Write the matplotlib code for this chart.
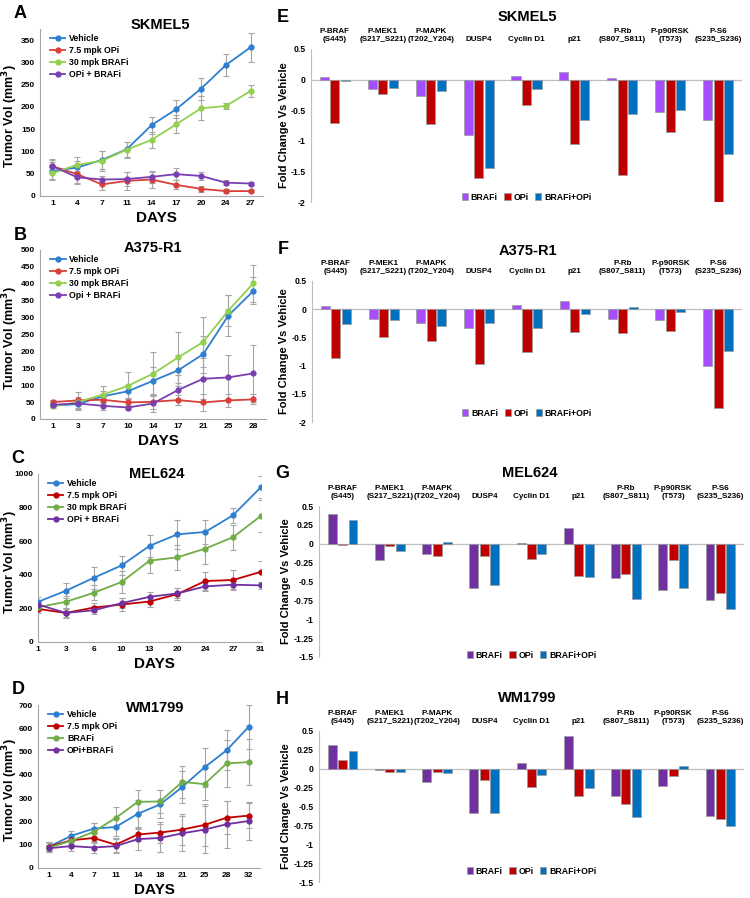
import numpy as np
import matplotlib.pyplot as plt

plt.rcParams['font.family'] = ['Liberation Sans', 'DejaVu Sans']
plt.rcParams['font.weight'] = 'bold'

# ---------------- growth curves (A-D) ----------------
days_a = [1, 4, 7, 11, 14, 17, 20, 24, 27]
skmel5_veh = [56, 64, 81, 105, 159, 195, 241, 294, 334]
skmel5_opi = [67, 49, 26, 34, 37, 25, 16, 11, 11]
skmel5_braf = [51, 70, 79, 104, 126, 161, 197, 202, 236]
skmel5_combo = [67, 42, 37, 38, 43, 49, 45, 30, 28]
skmel5_veh_err = [20, 15, 20, 17, 19, 20, 25, 24, 32]
skmel5_opi_err = [15, 20, 12, 20, 18, 10, 6, 4, 3]
skmel5_braf_err = [13, 17, 22, 18, 18, 20, 27, 7, 14]
skmel5_combo_err = [14, 14, 8, 15, 13, 14, 10, 5, 3]

days_b = [1, 3, 7, 10, 14, 17, 21, 25, 28]
a375_veh = [40, 44, 67, 82, 113, 144, 192, 306, 379]
a375_opi = [50, 55, 57, 49, 51, 56, 49, 55, 58]
a375_braf = [37, 50, 72, 98, 134, 182, 228, 321, 402]
a375_combo = [42, 46, 39, 34, 46, 86, 119, 123, 135]
a375_veh_err = [5, 10, 15, 20, 40, 45, 55, 60, 40]
a375_opi_err = [5, 25, 15, 10, 20, 15, 25, 20, 15]
a375_braf_err = [5, 8, 25, 40, 65, 75, 75, 45, 55]
a375_combo_err = [5, 20, 12, 8, 25, 45, 60, 65, 85]

days_c = [1, 3, 6, 10, 13, 20, 24, 27, 31]
mel624_veh = [239, 305, 382, 456, 572, 641, 655, 755, 922]
mel624_opi = [197, 173, 205, 223, 241, 285, 363, 369, 418]
mel624_braf = [207, 239, 293, 357, 484, 504, 556, 624, 751]
mel624_combo = [223, 173, 189, 231, 269, 289, 331, 341, 337]
mel624_veh_err = [30, 45, 65, 55, 65, 85, 70, 45, 65]
mel624_opi_err = [25, 30, 25, 40, 35, 35, 55, 60, 65]
mel624_braf_err = [20, 35, 45, 65, 75, 75, 90, 75, 95]
mel624_combo_err = [20, 25, 25, 30, 30, 30, 25, 25, 20]

days_d = [1, 4, 7, 11, 14, 18, 21, 25, 28, 32]
wm1799_veh = [92, 138, 169, 176, 233, 273, 348, 432, 506, 607]
wm1799_opi = [92, 119, 129, 100, 144, 152, 165, 185, 216, 225]
wm1799_braf = [88, 117, 155, 215, 284, 286, 370, 360, 449, 455]
wm1799_combo = [85, 94, 88, 94, 124, 129, 149, 165, 188, 202]
wm1799_veh_err = [20, 20, 25, 40, 60, 60, 70, 85, 85, 95]
wm1799_opi_err = [20, 15, 20, 30, 30, 45, 65, 90, 70, 55]
wm1799_braf_err = [20, 15, 40, 45, 50, 50, 70, 70, 100, 100]
wm1799_combo_err = [15, 20, 25, 30, 45, 60, 75, 100, 100, 80]

# ---------------- fold change bars (E-H) ----------------
proteins = ['P-BRAF\n(S445)', 'P-MEK1\n(S217_S221)', 'P-MAPK\n(T202_Y204)', 'DUSP4',
            'Cyclin D1', 'p21', 'P-Rb\n(S807_S811)', 'P-p90RSK\n(T573)', 'P-S6\n(S235_S236)']
bar_labels = ['BRAFi', 'OPi', 'BRAFi+OPi']

e_braf = [0.04, -0.15, -0.27, -0.90, 0.06, 0.12, 0.02, -0.53, -0.66]
e_opi = [-0.71, -0.24, -0.73, -1.61, -0.41, -1.06, -1.56, -0.86, -2.0]
e_combo = [-0.02, -0.14, -0.19, -1.44, -0.15, -0.66, -0.56, -0.50, -1.22]

f_braf = [0.06, -0.18, -0.24, -0.33, 0.07, 0.15, -0.17, -0.20, -1.01]
f_opi = [-0.87, -0.50, -0.56, -0.97, -0.76, -0.41, -0.42, -0.38, -1.76]
f_combo = [-0.27, -0.20, -0.30, -0.24, -0.34, -0.09, 0.04, -0.05, -0.74]

g_braf = [0.40, -0.21, -0.14, -0.58, 0.005, 0.21, -0.46, -0.61, -0.75]
g_opi = [-0.02, -0.03, -0.16, -0.16, -0.20, -0.43, -0.40, -0.22, -0.65]
g_combo = [0.32, -0.10, 0.02, -0.55, -0.13, -0.44, -0.73, -0.59, -0.86]

h_braf = [0.32, -0.02, -0.17, -0.58, 0.07, 0.43, -0.36, -0.23, -0.63]
h_opi = [0.11, -0.04, -0.04, -0.15, -0.24, -0.36, -0.47, -0.10, -0.66]
h_combo = [0.24, -0.04, -0.05, -0.58, -0.08, -0.26, -0.64, 0.03, -0.76]

W, H = 750, 898
fig = plt.figure(figsize=(7.5, 8.98), dpi=100)


def axes_px(l, t, r, b):
    return fig.add_axes([l / W, 1 - b / H, (r - l) / W, (b - t) / H])


def ftext(x, y, s, **kw):
    fig.text(x / W, 1 - y / H, s, **kw)


def growth_panel(box, days, series, errs, labels, colors, ylim, ystep, xlim,
                 title, title_xy, letter, letter_xy, days_y):
    ax = axes_px(*box)
    x = np.arange(len(days))
    for vals, err in zip(series, errs):
        ax.errorbar(x, vals, yerr=err, fmt='none', ecolor='#a6a6a6',
                    elinewidth=0.8, capsize=2, capthick=0.8, zorder=1)
    for vals, lab, col in zip(series, labels, colors):
        ax.plot(x, vals, color=col, lw=1.3, marker='o', ms=3.5, label=lab, zorder=3)
    ax.set_xlim(xlim)
    ax.set_ylim(ylim)
    ax.set_xticks(x)
    ax.set_xticklabels([str(d) for d in days], fontsize=6.5)
    ax.set_yticks(np.arange(0, ylim[1] + 1, ystep))
    ax.tick_params(labelsize=6.0, length=0, pad=3.5)
    ax.tick_params(axis='x', pad=3)
    for s in ['top', 'right']:
        ax.spines[s].set_visible(False)
    for s in ['left', 'bottom']:
        ax.spines[s].set_color('#a6a6a6')
    ax.legend(loc='upper left', bbox_to_anchor=(0.02, 1.0), frameon=False,
              fontsize=6.3, handlelength=1.8, labelspacing=0.35, borderaxespad=0.2,
              handletextpad=0.4)
    ftext(*title_xy, title, fontsize=10.5, ha='center', va='center')
    ftext(*letter_xy, letter, fontsize=13, ha='center', va='center')
    ftext(10.5, (box[1] + box[3]) / 2 + 4, 'Tumor Vol (mm$\\mathbf{^3}$)', fontsize=9,
          rotation=90, ha='center', va='center')
    ftext((box[0] + box[2]) / 2 + 5, days_y, 'DAYS', fontsize=11, ha='center', va='center')
    return ax


def bar_panel(box, vals3, colors, ylim, ystep, ylabels, title, title_xy,
              letter, letter_xy, legend_y, ylab_x):
    ax = axes_px(*box)
    x = np.arange(len(proteins))
    offs = [-0.22, 0, 0.22]
    for k in range(3):
        ax.bar(x + offs[k], vals3[k], width=0.19, color=colors[k],
               edgecolor='#9a9a9a', lw=0.5, label=bar_labels[k], zorder=2)
    ax.set_xlim(-0.5, 8.5)
    ax.set_ylim(ylim)
    ax.axhline(0, color='#bfbfbf', lw=0.9, zorder=1)
    ax.xaxis.tick_top()
    ax.set_xticks(x)
    ax.set_xticklabels(proteins, fontsize=5.8, linespacing=1.35)
    ax.tick_params(axis='x', length=0, pad=4)
    yt = np.arange(ylim[1], ylim[0] - 1e-9, -ystep)
    ax.set_yticks(yt)
    ax.set_yticklabels(ylabels, fontsize=6.2)
    ax.tick_params(axis='y', length=0, pad=4)
    for s in ['top', 'right', 'bottom']:
        ax.spines[s].set_visible(False)
    ax.spines['left'].set_color('#bfbfbf')
    ax.legend(loc='center', bbox_to_anchor=(0.5, (box[3] - legend_y) / (box[3] - box[1])),
              ncol=3, frameon=False, fontsize=6.3, handlelength=0.7, handleheight=0.9,
              columnspacing=0.8, handletextpad=0.3)
    ftext(*title_xy, title, fontsize=10.5, ha='center', va='center')
    ftext(*letter_xy, letter, fontsize=13, ha='center', va='center')
    ftext(ylab_x, (box[1] + box[3]) / 2, 'Fold Change Vs Vehicle', fontsize=8,
          rotation=90, ha='center', va='center')
    return ax


veh_c = '#2e7fd0'
light = [veh_c, '#d9403a', '#92d050', '#7a3fb0']
dark = [veh_c, '#c00000', '#70ad47', '#7030a0']

growth_panel((40, 29, 263, 196), days_a,
             [skmel5_veh, skmel5_opi, skmel5_braf, skmel5_combo],
             [skmel5_veh_err, skmel5_opi_err, skmel5_braf_err, skmel5_combo_err],
             ['Vehicle', '7.5 mpk OPi', '30 mpk BRAFi', 'OPi + BRAFi'], light,
             (0, 375), 50, (-0.5, 8.5), 'SKMEL5', (160, 25), 'A', (20, 14), 218)

growth_panel((40, 250, 266, 419), days_b,
             [a375_veh, a375_opi, a375_braf, a375_combo],
             [a375_veh_err, a375_opi_err, a375_braf_err, a375_combo_err],
             ['Vehicle', '7.5 mpk OPi', '30 mpk BRAFi', 'Opi + BRAFi'], light,
             (0, 500), 50, (-0.5, 8.5), 'A375-R1', (153, 248), 'B', (20, 235), 441)

growth_panel((38, 474, 261, 642), days_c,
             [mel624_veh, mel624_opi, mel624_braf, mel624_combo],
             [mel624_veh_err, mel624_opi_err, mel624_braf_err, mel624_combo_err],
             ['Vehicle', '7.5 mpk OPi', '30 mpk BRAFi', 'OPi + BRAFi'], dark,
             (0, 1000), 200, (0, 8), 'MEL624', (157, 474), 'C', (18, 458), 664)

growth_panel((38, 705, 260, 868), days_d,
             [wm1799_veh, wm1799_opi, wm1799_braf, wm1799_combo],
             [wm1799_veh_err, wm1799_opi_err, wm1799_braf_err, wm1799_combo_err],
             ['Vehicle', '7.5 mpk OPi', 'BRAFi', 'OPi+BRAFi'], dark,
             (0, 700), 100, (-0.5, 9.5), 'WM1799', (155, 708), 'D', (18, 690), 890)

bright = ['#a64dff', '#c00000', '#0070c0']
deep = ['#7030a0', '#c00000', '#0070c0']
lab_half = ['0.5', '0', '-0.5', '-1', '-1.5', '-2']
lab_quarter = ['0.5', '0.25', '0', '-0.25', '-0.5', '-0.75', '-1', '-1.25', '-1.5']

bar_panel((311, 49, 742, 202), [e_braf, e_opi, e_combo], bright, (-2, 0.5), 0.5, lab_half,
          'SKMEL5', (527, 17), 'E', (283, 17), 197, 284)
bar_panel((312, 281, 742, 422), [f_braf, f_opi, f_combo], bright, (-2, 0.5), 0.5, lab_half,
          'A375-R1', (528, 251), 'F', (283, 250), 413, 284)
bar_panel((319, 506, 744, 657), [g_braf, g_opi, g_combo], deep, (-1.5, 0.5), 0.25, lab_quarter,
          'MEL624', (530, 473), 'G', (282, 473), 655, 286)
bar_panel((319, 731, 744, 882), [h_braf, h_opi, h_combo], deep, (-1.5, 0.5), 0.25, lab_quarter,
          'WM1799', (527, 698), 'H', (282, 699), 871, 286)

fig.savefig('out.png', dpi=100)
